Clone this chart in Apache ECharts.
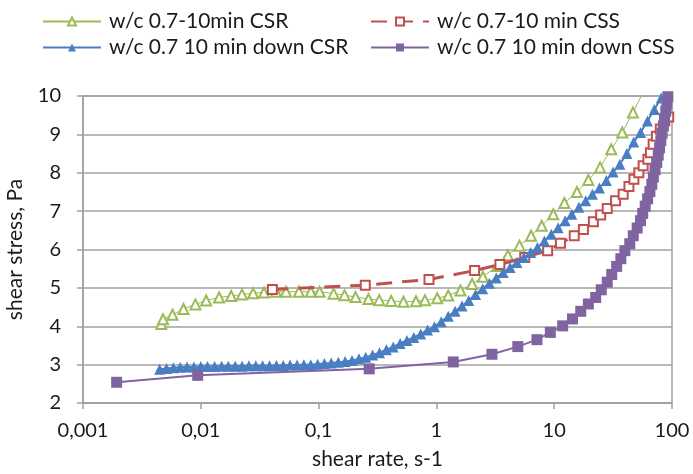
<!DOCTYPE html>
<html>
<head>
<meta charset="utf-8">
<script src="https://cdn.jsdelivr.net/npm/echarts@6/dist/echarts.min.js"></script>
<style>
html,body{margin:0;padding:0;background:#fff;}
#chart{width:693px;height:474px;}
</style>
</head>
<body>
<div id="chart"></div>
<script>
const xTickLabels = {'0.001':'0,001','0.01':'0,01','0.1':'0,1','1':'1','10':'10','100':'100'};
const seriesNames = ['w/c 0.7-10min CSR','w/c 0.7-10 min CSS','w/c 0.7 10 min down CSR','w/c 0.7 10 min down CSS'];

const greenCSR = [[0.00462,4.06],[0.00478,4.18],[0.00575,4.30],[0.00713,4.45],[0.0090,4.57],[0.0111,4.67],[0.0143,4.75],[0.0181,4.79],[0.0224,4.83],[0.0278,4.86],[0.0344,4.88],[0.0435,4.90],[0.0529,4.90],[0.068,4.90],[0.0859,4.90],[0.102,4.90],[0.134,4.85],[0.166,4.81],[0.206,4.76],[0.265,4.71],[0.327,4.68],[0.413,4.66],[0.525,4.64],[0.671,4.65],[0.800,4.68],[1.016,4.73],[1.26,4.80],[1.60,4.93],[2.01,5.10],[2.48,5.29],[3.28,5.57],[4.04,5.85],[5.07,6.10],[6.36,6.36],[7.83,6.62],[9.82,6.92],[12.2,7.21],[15.6,7.50],[19.5,7.81],[24.5,8.14],[30.5,8.61],[37.8,9.05],[46.6,9.57],[58,10.15]];

const redCSS = [[0.0405,4.96],[0.249,5.07],[0.865,5.22],[2.11,5.45],[3.46,5.61],[5.62,5.79],[8.8,5.97],[11.3,6.16],[14.8,6.36],[17.7,6.52],[21.5,6.72],[24.8,6.90],[28.2,7.07],[33.2,7.27],[38.5,7.44],[43.1,7.64],[47.5,7.83],[52.3,8.00],[56.9,8.18],[62.4,8.35],[65.6,8.52],[69.2,8.74],[73.7,8.95],[79.6,9.14],[86.7,9.35],[93.8,9.45]];

const blueCSR = [[0.00447,2.88],[0.00511,2.90],[0.00585,2.92],[0.00668,2.93],[0.00764,2.94],[0.00875,2.94],[0.0100,2.95],[0.0114,2.95],[0.0131,2.95],[0.0150,2.96],[0.0171,2.96],[0.0196,2.96],[0.0224,2.96],[0.0256,2.97],[0.0293,2.97],[0.0335,2.97],[0.0383,2.97],[0.0438,2.98],[0.0501,2.98],[0.0573,2.99],[0.0656,2.99],[0.0750,3.00],[0.0858,3.00],[0.0981,3.01],[0.112,3.03],[0.128,3.04],[0.147,3.06],[0.168,3.08],[0.192,3.11],[0.220,3.15],[0.251,3.19],[0.287,3.25],[0.329,3.31],[0.376,3.39],[0.430,3.46],[0.492,3.55],[0.562,3.63],[0.643,3.71],[0.736,3.80],[0.841,3.90],[0.962,3.99],[1.10,4.12],[1.26,4.26],[1.44,4.39],[1.65,4.53],[1.88,4.67],[2.15,4.83],[2.47,4.98],[2.82,5.12],[3.22,5.26],[3.69,5.40],[4.22,5.53],[4.82,5.66],[5.52,5.79],[6.31,5.92],[7.21,6.05],[8.25,6.22],[9.44,6.40],[10.8,6.57],[12.4,6.75],[14.1,6.92],[16.2,7.10],[18.5,7.27],[21.1,7.44],[24.2,7.60],[27.7,7.80],[31.6,8.02],[36.1,8.22],[41.4,8.50],[47.3,8.80],[54.1,9.05],[61.9,9.35],[70.8,9.65],[80.9,9.95]];

const purpleCSS = [[0.00193,2.54],[0.00941,2.72],[0.269,2.89],[1.39,3.07],[2.96,3.27],[4.91,3.47],[7.14,3.65],[9.27,3.84],[11.8,4.01],[14.3,4.19],[16.8,4.39],[19.5,4.58],[22.5,4.75],[25.1,4.95],[28.2,5.15],[30.8,5.35],[33.9,5.56],[36.8,5.76],[39.8,5.97],[43.8,6.15],[46.9,6.36],[50.6,6.56],[54.0,6.75],[56.4,6.94],[59.2,7.13],[62.1,7.32],[64.9,7.51],[67.4,7.70],[69.5,7.89],[71.8,8.08],[74.3,8.27],[76.4,8.46],[78.4,8.65],[80.4,8.84],[82.4,9.03],[84.5,9.22],[86.5,9.41],[88.5,9.60],[90.4,9.79],[92.2,9.98]];

const FONT = 'Lato';
const TXT = '#1a1a1a';
const chart = echarts.init(document.getElementById('chart'), null, {renderer:'canvas'});
const GREEN = '#9BBB59', RED = '#C0504D', BLUE = '#4A7EC2', PURPLE = '#8064A2';
const legendText = {fontFamily: FONT, fontSize: 21, color: TXT, padding: [0,0,0,3]};
chart.setOption({
  animation: false,
  backgroundColor: '#fff',
  grid: {left: 83, right: 21, top: 96, bottom: 71, outerBoundsMode: 'none', containLabel: false,
         show: true, borderColor: '#A0A0A0', borderWidth: 1.5, backgroundColor: 'transparent'},
  legend: [
    {data: [seriesNames[0], seriesNames[2]], orient: 'vertical', left: 37, top: 6, itemWidth: 58, itemHeight: 10, itemGap: 5, textStyle: legendText},
    {data: [seriesNames[1], seriesNames[3]], orient: 'vertical', left: 365, top: 6, itemWidth: 58, itemHeight: 10, itemGap: 5, textStyle: legendText}
  ],
  xAxis: {
    type: 'log', logBase: 10, min: 0.001, max: 100,
    name: 'shear rate, s-1', nameLocation: 'middle', nameGap: 46,
    nameTextStyle: {fontFamily: FONT, fontSize: 21, color: TXT},
    axisLine: {show: true, lineStyle: {color: '#A0A0A0', width: 1.5}},
    axisTick: {show: true, length: 6, lineStyle: {color: '#A0A0A0', width: 1.5}},
    axisLabel: {fontFamily: FONT, fontSize: 20, color: TXT, margin: 18,
      formatter: v => { const k = String(+v.toPrecision(3)); return xTickLabels[k] !== undefined ? xTickLabels[k] : ''; }},
    splitLine: {show: false}
  },
  yAxis: {
    type: 'value', min: 2, max: 10, interval: 1,
    name: 'shear stress, Pa', nameLocation: 'middle', nameGap: 57, nameRotate: 90,
    nameTextStyle: {fontFamily: FONT, fontSize: 21, color: TXT},
    axisLine: {show: true, lineStyle: {color: '#A0A0A0', width: 1.5}},
    axisTick: {show: true, length: 6, lineStyle: {color: '#A0A0A0', width: 1.5}},
    axisLabel: {fontFamily: FONT, fontSize: 20, color: TXT, margin: 22},
    splitLine: {show: true, lineStyle: {color: '#A0A0A0', width: 1.5}}
  },
  series: [
    {name: seriesNames[0], type: 'line', data: greenCSR, symbol: 'emptyTriangle', symbolSize: 10,
     lineStyle: {color: GREEN, width: 1}, itemStyle: {color: GREEN, borderColor: GREEN, borderWidth: 1.5}, z: 2},
    {name: seriesNames[1], type: 'line', data: redCSS, symbol: 'emptyRect', symbolSize: 9,
     lineStyle: {color: RED, width: 3, type: [16, 10]}, itemStyle: {color: RED, borderColor: RED, borderWidth: 1.5}, z: 3},
    {name: seriesNames[2], type: 'line', data: blueCSR, symbol: 'triangle', symbolSize: 11,
     lineStyle: {color: BLUE, width: 2}, itemStyle: {color: BLUE}, z: 4},
    {name: seriesNames[3], type: 'line', data: purpleCSS, symbol: 'rect', symbolSize: 11,
     lineStyle: {color: PURPLE, width: 2}, itemStyle: {color: PURPLE}, z: 5}
  ]
});
</script>
</body>
</html>
